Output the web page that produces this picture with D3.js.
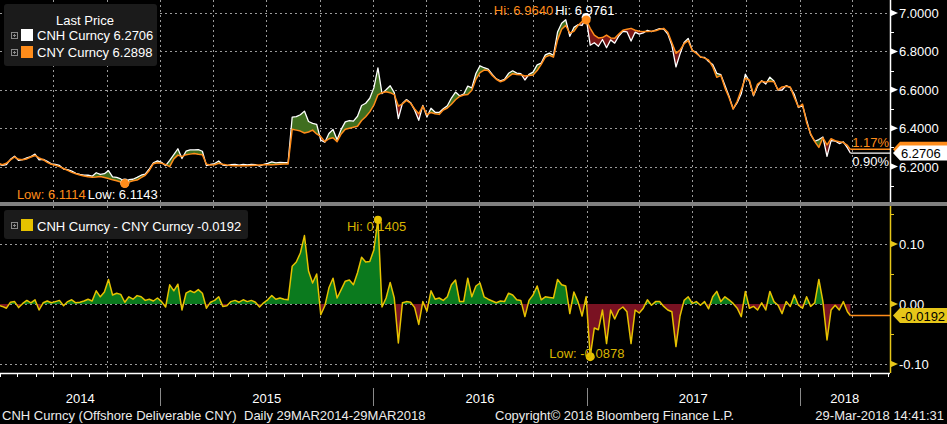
<!DOCTYPE html>
<html>
<head>
<meta charset="utf-8">
<script src="https://cdn.jsdelivr.net/npm/d3@7"></script>
<style>
body { margin: 0; background: #000; }
svg { display: block; font-family: "Liberation Sans", Arial, sans-serif; }
</style>
</head>
<body>
<div id="chart"></div>
<script>
// weekly samples, 29 Mar 2014 -> 29 Mar 2018 (last one is the close)
var startDate = "2014-03-29";
var endDate = "2018-03-29";

var cny = [
  6.217, 6.210, 6.217, 6.235, 6.250, 6.238, 6.236, 6.240, 6.250, 6.258,
  6.245, 6.236, 6.222, 6.212, 6.207, 6.200, 6.190, 6.180, 6.170, 6.163,
  6.156, 6.151, 6.147, 6.145, 6.146, 6.148, 6.143, 6.138, 6.131, 6.126,
  6.120, 6.1114, 6.120, 6.126, 6.130, 6.143, 6.155, 6.180, 6.215, 6.220,
  6.218, 6.210, 6.200, 6.240, 6.260, 6.252, 6.262, 6.265, 6.268, 6.264,
  6.262, 6.212, 6.208, 6.210, 6.217, 6.212, 6.208, 6.206, 6.205, 6.205,
  6.205, 6.205, 6.206, 6.207, 6.208, 6.209, 6.210, 6.210, 6.211, 6.212,
  6.213, 6.214, 6.395, 6.390, 6.385, 6.375, 6.380, 6.390, 6.370, 6.356,
  6.330, 6.345, 6.350, 6.330, 6.370, 6.395, 6.400, 6.405, 6.410, 6.440,
  6.460, 6.485, 6.520, 6.574, 6.585, 6.590, 6.585, 6.575, 6.515, 6.527,
  6.545, 6.530, 6.500, 6.475, 6.515, 6.470, 6.482, 6.475, 6.472, 6.495,
  6.505, 6.525, 6.548, 6.565, 6.573, 6.576, 6.598, 6.655, 6.690, 6.703,
  6.700, 6.675, 6.655, 6.642, 6.650, 6.668, 6.684, 6.680, 6.678, 6.672,
  6.674, 6.677, 6.700, 6.732, 6.770, 6.780, 6.770, 6.860, 6.915, 6.935,
  6.895, 6.905, 6.935, 6.955, 6.964, 6.920, 6.885, 6.870, 6.872, 6.885,
  6.870, 6.868, 6.890, 6.910, 6.915, 6.920, 6.910, 6.905, 6.903, 6.903,
  6.905, 6.907, 6.915, 6.920, 6.900, 6.845, 6.790, 6.807, 6.840, 6.856,
  6.805, 6.790, 6.772, 6.765, 6.755, 6.720, 6.665, 6.675, 6.610, 6.560,
  6.500, 6.540, 6.600, 6.660, 6.650, 6.573, 6.630, 6.645, 6.640, 6.645,
  6.642, 6.600, 6.615, 6.618, 6.615, 6.560, 6.510, 6.525, 6.430, 6.370,
  6.330, 6.300, 6.350, 6.313, 6.345, 6.335, 6.330, 6.325, 6.310, 6.2898
];

var cnh = [
  6.2146, 6.206, 6.210, 6.238, 6.254, 6.232, 6.237, 6.246, 6.252, 6.265,
  6.235, 6.238, 6.227, 6.214, 6.211, 6.206, 6.187, 6.184, 6.177, 6.165,
  6.159, 6.156, 6.155, 6.150, 6.168, 6.160, 6.163, 6.179, 6.146, 6.144,
  6.136, 6.1143, 6.132, 6.134, 6.144, 6.155, 6.161, 6.188, 6.220, 6.230,
  6.222, 6.205, 6.232, 6.262, 6.293, 6.242, 6.280, 6.287, 6.287, 6.288,
  6.280, 6.205, 6.211, 6.216, 6.229, 6.208, 6.205, 6.210, 6.211, 6.208,
  6.212, 6.209, 6.212, 6.210, 6.203, 6.211, 6.217, 6.224, 6.219, 6.222,
  6.221, 6.221, 6.458, 6.460, 6.470, 6.489, 6.435, 6.425, 6.420, 6.338,
  6.327, 6.372, 6.393, 6.340, 6.394, 6.433, 6.440, 6.437, 6.462, 6.518,
  6.530, 6.556, 6.610, 6.7145, 6.580, 6.600, 6.621, 6.585, 6.450, 6.529,
  6.549, 6.533, 6.494, 6.441, 6.519, 6.458, 6.504, 6.483, 6.482, 6.501,
  6.517, 6.557, 6.588, 6.569, 6.577, 6.619, 6.610, 6.685, 6.725, 6.715,
  6.708, 6.680, 6.657, 6.647, 6.654, 6.686, 6.699, 6.687, 6.684, 6.651,
  6.680, 6.692, 6.730, 6.739, 6.782, 6.791, 6.780, 6.901, 6.947, 6.965,
  6.879, 6.925, 6.939, 6.935, 6.9761, 6.8322, 6.845, 6.827, 6.862, 6.819,
  6.860, 6.843, 6.880, 6.905, 6.902, 6.854, 6.900, 6.890, 6.896, 6.910,
  6.903, 6.911, 6.919, 6.916, 6.890, 6.832, 6.719, 6.787, 6.846, 6.868,
  6.806, 6.794, 6.770, 6.769, 6.747, 6.732, 6.686, 6.679, 6.622, 6.567,
  6.501, 6.533, 6.579, 6.681, 6.643, 6.569, 6.620, 6.647, 6.630, 6.666,
  6.646, 6.598, 6.599, 6.622, 6.611, 6.575, 6.508, 6.518, 6.442, 6.366,
  6.332, 6.341, 6.354, 6.253, 6.335, 6.333, 6.320, 6.329, 6.297, 6.2706
];

// CNH - CNY
var spread = [
  -0.0024, -0.004, -0.007, 0.003, 0.004, -0.006, 0.001, 0.006, 0.002, 0.007,
  -0.010, 0.002, 0.005, 0.002, 0.004, 0.006, -0.003, 0.004, 0.007, 0.002,
  0.003, 0.005, 0.008, 0.005, 0.022, 0.012, 0.020, 0.041, 0.015, 0.018,
  0.016, 0.0029, 0.012, 0.008, 0.014, 0.012, 0.006, 0.008, 0.005, 0.010,
  0.004, -0.005, 0.032, 0.022, 0.033, -0.010, 0.018, 0.022, 0.019, 0.024,
  0.018, -0.007, 0.003, 0.006, 0.012, -0.004, -0.003, 0.004, 0.006, 0.003,
  0.007, 0.004, 0.006, 0.003, -0.005, 0.002, 0.007, 0.014, 0.008, 0.010,
  0.008, 0.007, 0.063, 0.070, 0.085, 0.114, 0.055, 0.035, 0.050, -0.018,
  -0.003, 0.027, 0.043, 0.010, 0.024, 0.038, 0.040, 0.032, 0.052, 0.078,
  0.070, 0.071, 0.090, 0.1405, -0.005, 0.010, 0.036, 0.010, -0.065, 0.002,
  0.004, 0.003, -0.006, -0.034, 0.004, -0.012, 0.022, 0.008, 0.010, 0.006,
  0.012, 0.032, 0.040, 0.004, 0.004, 0.043, 0.012, 0.030, 0.035, 0.012,
  0.008, 0.005, 0.002, 0.005, 0.004, 0.018, 0.015, 0.007, 0.006, -0.021,
  0.006, 0.015, 0.030, 0.007, 0.012, 0.011, 0.010, 0.041, 0.032, 0.030,
  -0.016, 0.020, 0.004, -0.020, 0.0121, -0.0878, -0.040, -0.043, -0.010, -0.066,
  -0.010, -0.025, -0.010, -0.005, -0.013, -0.066, -0.010, -0.015, -0.007, 0.007,
  -0.002, 0.004, 0.004, -0.004, -0.010, -0.013, -0.071, -0.020, 0.006, 0.012,
  0.001, 0.004, -0.002, 0.004, -0.008, 0.012, 0.021, 0.004, 0.012, 0.007,
  0.001, -0.007, -0.021, 0.021, -0.007, -0.004, -0.010, 0.002, -0.010, 0.021,
  0.004, -0.002, -0.016, 0.004, -0.004, 0.015, -0.002, -0.007, 0.012, -0.004,
  0.002, 0.041, 0.004, -0.060, -0.010, -0.002, -0.010, 0.004, -0.013, -0.0192
];

var topTicks = [7.0, 6.8, 6.6, 6.4, 6.2];
var topMinor = [6.9, 6.7, 6.5, 6.3, 6.1];
var botTicks = [0.10, 0.00, -0.10];
var botMinor = [0.15, 0.05, -0.05];
var years = [2014, 2015, 2016, 2017, 2018];

var svgWidth = 947;
var svgHeight = 424;
var plotRight = 890;
var topPanel = { top: 0, bottom: 202 };
var botPanel = { top: 206, bottom: 373 };

var orange = "#ff8c1a";
var gold = "#e6c200";
var gridColor = "#9a9a9a";

var svg = d3.select("#chart").append("svg")
    .attr("width", svgWidth)
    .attr("height", svgHeight);

svg.append("rect").attr("width", svgWidth).attr("height", svgHeight).attr("fill", "#000");

var parseDate = d3.timeParse("%Y-%m-%d");
var firstDate = parseDate(startDate);
var dates = cny.map(function(d, i) {
    return i < cny.length - 1 ? d3.timeDay.offset(firstDate, 7 * i) : parseDate(endDate);
});
var last = cny.length - 1;

var x = d3.scaleTime()
    .domain([new Date(2014, 3, 1), new Date(2018, 5, 5)])
    .range([0, plotRight]);
var yTop = d3.scaleLinear().domain([6.2, 7.0]).range([166.6, 13]);
var yBot = d3.scaleLinear().domain([-0.1, 0.1]).range([364, 244]);

// Bloomberg prints a plain hyphen for negatives
var f4 = d => d.toFixed(4);

//clip paths
var defs = svg.append("defs");
defs.append("clipPath").attr("id", "clipTop").append("rect")
    .attr("x", 0).attr("y", topPanel.top).attr("width", plotRight).attr("height", topPanel.bottom - topPanel.top);
defs.append("clipPath").attr("id", "clipBot").append("rect")
    .attr("x", 0).attr("y", botPanel.top).attr("width", plotRight).attr("height", botPanel.bottom - botPanel.top);
defs.append("clipPath").attr("id", "aboveCny").append("path")
    .attr("d", d3.area().x((d, i) => x(dates[i])).y0(topPanel.top).y1(d => yTop(d))(cny));
defs.append("clipPath").attr("id", "belowCny").append("path")
    .attr("d", d3.area().x((d, i) => x(dates[i])).y0(topPanel.bottom).y1(d => yTop(d))(cny));
defs.append("clipPath").attr("id", "aboveZero").append("rect")
    .attr("x", 0).attr("y", botPanel.top).attr("width", plotRight).attr("height", yBot(0) - botPanel.top);
defs.append("clipPath").attr("id", "belowZero").append("rect")
    .attr("x", 0).attr("y", yBot(0)).attr("width", plotRight).attr("height", botPanel.bottom - yBot(0));

//grid
var quarters = x.ticks(d3.timeMonth.every(3)).filter(d => x(d) > 2 && x(d) < plotRight - 1);
var grid = svg.append("g")
    .attr("stroke", gridColor)
    .attr("stroke-width", 1)
    .attr("stroke-dasharray", "2,3");
[topPanel, botPanel].forEach(function(p) {
    grid.selectAll(null).data(quarters).enter().append("line")
        .attr("x1", d => Math.round(x(d)) + 0.5).attr("x2", d => Math.round(x(d)) + 0.5)
        .attr("y1", p.top).attr("y2", p.bottom);
});
grid.selectAll(null).data(topTicks).enter().append("line")
    .attr("x1", 0).attr("x2", plotRight)
    .attr("y1", d => Math.round(yTop(d)) + 0.5).attr("y2", d => Math.round(yTop(d)) + 0.5);
grid.selectAll(null).data(botTicks).enter().append("line")
    .attr("x1", 0).attr("x2", plotRight)
    .attr("y1", d => Math.round(yBot(d)) + 0.5).attr("y2", d => Math.round(yBot(d)) + 0.5);

//top panel: fill between the two prices, then lines
var topG = svg.append("g").attr("clip-path", "url(#clipTop)");
var between = d3.area().x((d, i) => x(dates[i])).y0((d, i) => yTop(cny[i])).y1(d => yTop(d));
topG.append("path").attr("d", between(cnh)).attr("fill", "#3f6e1f").attr("clip-path", "url(#aboveCny)");
topG.append("path").attr("d", between(cnh)).attr("fill", "#7a1616").attr("clip-path", "url(#belowCny)");

var lineTop = d3.line().x((d, i) => x(dates[i])).y(d => yTop(d));
topG.append("path").attr("d", lineTop(cnh))
    .attr("fill", "none").attr("stroke", "#ffffff").attr("stroke-width", 1.3).attr("stroke-linejoin", "round");
topG.append("path").attr("d", lineTop(cny))
    .attr("fill", "none").attr("stroke", orange).attr("stroke-width", 1.5).attr("stroke-linejoin", "round");

//bottom panel: spread
var botG = svg.append("g").attr("clip-path", "url(#clipBot)");
var spreadArea = d3.area().x((d, i) => x(dates[i])).y0(yBot(0)).y1(d => yBot(d));
botG.append("path").attr("d", spreadArea(spread)).attr("fill", "#0b7a1e").attr("clip-path", "url(#aboveZero)");
botG.append("path").attr("d", spreadArea(spread)).attr("fill", "#7a1222").attr("clip-path", "url(#belowZero)");
botG.append("path")
    .attr("d", d3.line().x((d, i) => x(dates[i])).y(d => yBot(d))(spread))
    .attr("fill", "none").attr("stroke", gold).attr("stroke-width", 1.5).attr("stroke-linejoin", "round");

//last value lines to the axis
var xLast = x(dates[last]);
svg.append("line").attr("x1", xLast).attr("x2", plotRight).attr("y1", yTop(cny[last])).attr("y2", yTop(cny[last]))
    .attr("stroke", orange).attr("stroke-width", 1.5);
svg.append("line").attr("x1", xLast).attr("x2", plotRight).attr("y1", yTop(cnh[last])).attr("y2", yTop(cnh[last]))
    .attr("stroke", "#fff").attr("stroke-width", 1.3);
svg.append("line").attr("x1", xLast).attr("x2", plotRight).attr("y1", yBot(spread[last])).attr("y2", yBot(spread[last]))
    .attr("stroke", orange).attr("stroke-width", 1.5);

// percent change labels
var pct = d3.format(".2f");
svg.append("text").attr("x", plotRight - 1).attr("y", 147).attr("text-anchor", "end")
    .attr("font-size", 13).attr("fill", orange)
    .text(pct((cny[last] / cny[0] - 1) * 100) + "%");
svg.append("text").attr("x", plotRight - 1).attr("y", 166).attr("text-anchor", "end")
    .attr("font-size", 13).attr("fill", "#fff")
    .text(pct((cnh[last] / cnh[0] - 1) * 100) + "%");

//hi / low markers
function extIndex(arr, cmp) {
    var k = 0;
    arr.forEach(function(v, i) { if (cmp(v, arr[k])) k = i; });
    return k;
}
var hiCnh = extIndex(cnh, (a, b) => a > b), hiCny = extIndex(cny, (a, b) => a > b);
var loCnh = extIndex(cnh, (a, b) => a < b), loCny = extIndex(cny, (a, b) => a < b);
var hiSp = extIndex(spread, (a, b) => a > b), loSp = extIndex(spread, (a, b) => a < b);

var marks = svg.append("g").attr("font-size", 13);
marks.append("circle").attr("cx", x(dates[hiCnh])).attr("cy", yTop(cnh[hiCnh])).attr("r", 4.5).attr("fill", "#fff");
marks.append("circle").attr("cx", x(dates[hiCny])).attr("cy", yTop(cny[hiCny])).attr("r", 4.5).attr("fill", orange);
marks.append("text").attr("x", x(dates[hiCny]) - 33).attr("y", 15).attr("text-anchor", "end")
    .attr("fill", orange).text("Hi: " + f4(cny[hiCny]));
marks.append("text").attr("x", x(dates[hiCnh]) - 31).attr("y", 15)
    .attr("fill", "#fff").text("Hi: " + f4(cnh[hiCnh]));

marks.append("circle").attr("cx", x(dates[loCnh])).attr("cy", yTop(cnh[loCnh])).attr("r", 4.5).attr("fill", "#fff");
marks.append("circle").attr("cx", x(dates[loCny])).attr("cy", yTop(cny[loCny])).attr("r", 4.5).attr("fill", orange);
marks.append("text").attr("x", x(dates[loCny]) - 39).attr("y", 199).attr("text-anchor", "end")
    .attr("fill", orange).text("Low: " + f4(cny[loCny]));
marks.append("text").attr("x", x(dates[loCnh]) - 37).attr("y", 199)
    .attr("fill", "#fff").text("Low: " + f4(cnh[loCnh]));

marks.append("circle").attr("cx", x(dates[hiSp])).attr("cy", yBot(spread[hiSp])).attr("r", 4).attr("fill", gold);
marks.append("text").attr("x", x(dates[hiSp]) - 31).attr("y", 231)
    .attr("fill", "#d8b400").text("Hi: " + f4(spread[hiSp]));
marks.append("circle").attr("cx", x(dates[loSp])).attr("cy", yBot(spread[loSp])).attr("r", 4.5).attr("fill", gold);
marks.append("text").attr("x", x(dates[loSp]) - 41).attr("y", 358)
    .attr("fill", "#d8b400").text("Low: " + f4(spread[loSp]));

//legends
function plusIcon(g, px, py) {
    g.append("rect").attr("x", px + 0.5).attr("y", py + 0.5).attr("width", 6).attr("height", 6)
        .attr("fill", "none").attr("stroke", "#8a8a8a");
    g.append("path").attr("d", `M${px + 2},${py + 3.5}H${px + 5}M${px + 3.5},${py + 2}V${py + 5}`)
        .attr("stroke", "#8a8a8a");
}
var leg = svg.append("g").attr("font-size", 13);
leg.append("rect").attr("x", 4).attr("y", 4).attr("width", 153).attr("height", 62).attr("rx", 3)
    .attr("fill", "#1b1b1b");
leg.append("text").attr("x", 85).attr("y", 25).attr("text-anchor", "middle").attr("fill", "#fff").text("Last Price");
[["CNH Curncy", cnh, "#fff", 29], ["CNY Curncy", cny, orange, 46]].forEach(function(r) {
    plusIcon(leg, 11, r[3] + 3);
    leg.append("rect").attr("x", 21).attr("y", r[3]).attr("width", 12).attr("height", 12).attr("fill", r[2]);
    leg.append("text").attr("x", 37).attr("y", r[3] + 11).attr("fill", "#fff")
        .text(r[0] + " " + f4(r[1][last]));
});
leg.append("rect").attr("x", 4).attr("y", 210).attr("width", 244).attr("height", 29).attr("rx", 3)
    .attr("fill", "#1b1b1b");
plusIcon(leg, 11, 222);
leg.append("rect").attr("x", 21).attr("y", 219).attr("width", 12).attr("height", 12).attr("fill", gold);
leg.append("text").attr("x", 37).attr("y", 231).attr("fill", "#fff")
    .text("CNH Curncy - CNY Curncy " + f4(spread[last]));

//right axes
function rightAxis(scale, ticks, minor, top, bottom, color, fmt) {
    var g = svg.append("g");
    g.append("line").attr("x1", plotRight + 0.5).attr("x2", plotRight + 0.5).attr("y1", top).attr("y2", bottom)
        .attr("stroke", color).attr("stroke-width", 1.5);
    g.selectAll(null).data(minor).enter().append("line")
        .attr("x1", plotRight).attr("x2", plotRight + 4)
        .attr("y1", d => Math.round(scale(d)) + 0.5).attr("y2", d => Math.round(scale(d)) + 0.5)
        .attr("stroke", color);
    g.selectAll(null).data(ticks).enter().append("path")
        .attr("d", d => `M${plotRight},${scale(d) - 3.5}L${plotRight + 8},${scale(d)}L${plotRight},${scale(d) + 3.5}Z`)
        .attr("fill", color);
    g.selectAll(null).data(ticks).enter().append("text")
        .attr("x", plotRight + 9).attr("y", d => scale(d) + 5)
        .attr("font-size", 13).attr("fill", "#fff")
        .text(fmt);
}
rightAxis(yTop, topTicks, topMinor, topPanel.top, topPanel.bottom, "#fff", d => d.toFixed(4));
rightAxis(yBot, botTicks, botMinor, botPanel.top, botPanel.bottom, "#e6c619", d => d.toFixed(2));

//value tags (the CNY tag sits under the CNH one, only its edge shows)
function tag(yv, fill, label) {
    svg.append("path")
        .attr("d", `M893,${yv}L900,${yv - 7.5}H947V${yv + 7.5}H900Z`)
        .attr("fill", fill);
    if (label) {
        svg.append("text").attr("x", 901).attr("y", yv + 5).attr("font-size", 13).attr("fill", "#000").text(label);
    }
}
tag(yTop(cny[last]), orange, null);
tag(yTop(cnh[last]), "#ffffff", f4(cnh[last]));
tag(yBot(spread[last]), "#e6c619", f4(spread[last]));

//separator between panels
svg.append("rect").attr("x", 0).attr("y", topPanel.bottom).attr("width", svgWidth).attr("height", botPanel.top - topPanel.bottom)
    .attr("fill", "#808080");

//bottom time axis
var axisG = svg.append("g");
axisG.append("line").attr("x1", 0).attr("x2", plotRight).attr("y1", botPanel.bottom + 0.5).attr("y2", botPanel.bottom + 0.5)
    .attr("stroke", "#fff").attr("stroke-width", 1.5);
axisG.selectAll(null).data(x.ticks(d3.timeMonth.every(1))).enter().append("line")
    .attr("x1", d => Math.round(x(d)) + 0.5).attr("x2", d => Math.round(x(d)) + 0.5)
    .attr("y1", botPanel.bottom).attr("y2", botPanel.bottom + 4)
    .attr("stroke", "#fff");
axisG.selectAll(null).data(years.slice(1)).enter().append("line")
    .attr("x1", d => Math.round(x(new Date(d, 0, 1))) + 0.5).attr("x2", d => Math.round(x(new Date(d, 0, 1))) + 0.5)
    .attr("y1", 388).attr("y2", 406)
    .attr("stroke", "#8a8a8a");
axisG.selectAll(null).data(years).enter().append("text")
    .attr("x", function(d) {
        var a = Math.max(0, x(new Date(d, 0, 1)));
        var b = Math.min(plotRight, x(new Date(d + 1, 0, 1)));
        return (a + b) / 2;
    })
    .attr("y", 403).attr("text-anchor", "middle").attr("font-size", 13).attr("fill", "#fff")
    .text(d => d);

//footer
var foot = svg.append("g").attr("font-size", 13).attr("fill", "#ececec");
foot.append("text").attr("x", 2).attr("y", 420).text("CNH Curncy (Offshore Deliverable CNY)");
foot.append("text").attr("x", 244).attr("y", 420).text("Daily 29MAR2014-29MAR2018");
foot.append("text").attr("x", 495).attr("y", 420).text("Copyright\u00a9 2018 Bloomberg Finance L.P.");
foot.append("text").attr("x", 944).attr("y", 420).attr("text-anchor", "end").text("29-Mar-2018 14:41:31");
</script>
</body>
</html>
